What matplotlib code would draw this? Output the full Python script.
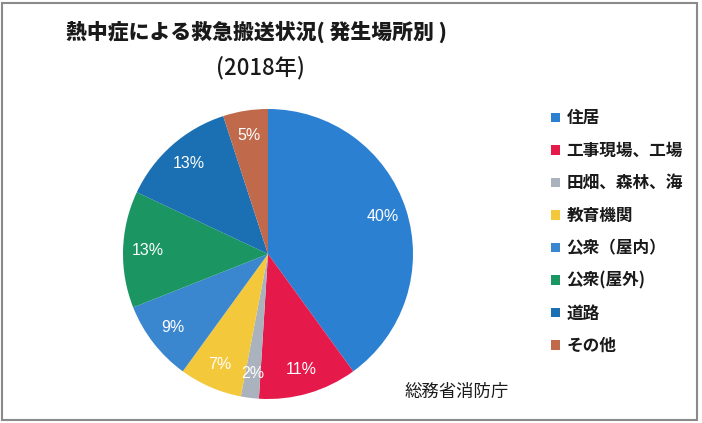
import matplotlib
matplotlib.use("Agg")
import matplotlib.pyplot as plt
from matplotlib.patches import Rectangle

plt.rcParams['font.family'] = ['Noto Sans CJK JP', 'DejaVu Sans']

# データ
places = ["住居", "工事現場、工場", "田畑、森林、海", "教育機関",
          "公衆（屋内）", "公衆(屋外)", "道路", "その他"]
shares = [40, 11, 2, 7, 9, 13, 13, 5]
colors = ["#2b80d2", "#e6194b", "#a9b2bd", "#f3c83a",
          "#3a86cf", "#1b9663", "#1a70b2", "#c0694b"]

fig = plt.figure(figsize=(7.02, 4.23), dpi=100)

# 円グラフ
ax = fig.add_axes([123 / 702, 24 / 423, 290 / 702, 290 / 423])
wedges, texts, autotexts = ax.pie(
    shares, colors=colors, startangle=90, counterclock=False,
    autopct="%d%%", pctdistance=0.83,
    textprops=dict(color="white", fontsize=11.5, family=["Liberation Sans", "DejaVu Sans"]))
ax.set_xlim(-1, 1)
ax.set_ylim(-1, 1)
ax.set_aspect("equal")

# タイトル
fig.text(256 / 702, 1 - 32 / 423, "熱中症による救急搬送状況( 発生場所別 )",
         ha="center", va="center", fontsize=15, fontweight="heavy", color="#1a1a1a")
fig.text(260 / 702, 1 - 68 / 423, "(2018年)",
         ha="center", va="center", fontsize=16, fontweight="medium", color="#1a1a1a")

# 凡例
leg = fig.legend(wedges, places, loc="upper left",
                 bbox_to_anchor=(543 / 702, 1 - 101 / 423),
                 frameon=False, fontsize=12, handlelength=0.5, handleheight=0.5,
                 handletextpad=0.4, labelspacing=0.87, borderpad=0)
for t in leg.get_texts():
    t.set_fontweight("semibold")
    t.set_color("#1a1a1a")

fig.text(405 / 702, 1 - 392 / 423, "総務省消防庁", ha="left", va="center",
         fontsize=12.5, color="#1a1a1a")

# 枠線
fig.patches.append(Rectangle((2 / 702, 3 / 423), 695 / 702, 417 / 423,
                             transform=fig.transFigure, fill=False,
                             edgecolor="#8a8a8a", linewidth=1.5))

fig.savefig("out.png", dpi=100)
